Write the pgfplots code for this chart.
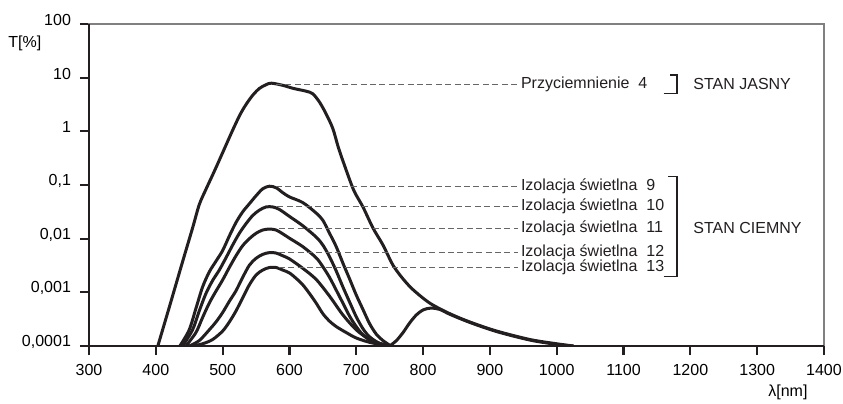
\documentclass[border=0pt]{standalone}
\usepackage{fontspec}
\setmainfont{Liberation Sans}
\usepackage{pgfplots}
\pgfplotsset{compat=1.18}

\definecolor{ink}{RGB}{35,31,32}
\definecolor{leader}{gray}{0.40}
\newcommand\fs{\fontsize{8}{9.6}\selectfont}
\tikzset{curve/.style={draw=ink, solid, line width=1.5pt, smooth, tension=0.5, mark=none}}

\begin{document}
\begin{tikzpicture}
\path[use as bounding box] (-44.5pt,-28.5pt) rectangle (377pt,173pt);
\begin{axis}[
  at={(0,0)}, anchor=south west,
  scale only axis, width=367.5pt, height=161pt,
  xmin=300, xmax=1400, ymin=1e-4, ymax=100, ymode=log,
  axis line style={draw=black!50, line width=0.6pt},
  xtick pos=bottom, ytick pos=left,
  tick style={draw=ink, line width=1.1pt},
  tick align=outside,
  major tick length=4.5pt,
  yminorticks=false,
  xtick={300,400,...,1400},
  ytick={1e-4,1e-3,1e-2,1e-1,1,10,100},
  yticklabels={{0,0001},{0,001},{0,01},{0,1},1,10,100},
  /pgf/number format/1000 sep={},
  /pgf/number format/assume math mode=true,
  xticklabel style={font=\fs, yshift=-1pt},
  yticklabel style={font=\fs, yshift=2pt, xshift=-1pt},
  clip=true,
]
% Przyciemnienie 4
\addplot[curve] coordinates {
  (403,1e-4) (420,5.2e-4) (440,3.7e-3) (455,0.0158) (465,0.043) (475,0.083)
  (487,0.174) (500,0.40) (515,1.05) (526,2.04) (535,3.16) (545,4.7)
  (555,6.3) (565,7.4) (573,7.9) (590,7.2) (606,6.3) (625,5.6) (635,5.0)
  (645,3.5) (655,2.1) (665,1.12) (673,0.51) (681,0.26) (696,0.081)
  (710,0.039) (725,0.0158) (740,0.0076) (755,0.0032) (770,0.00178)
  (785,0.00112) (810,6.3e-4) (840,4.0e-4) (870,2.8e-4) (910,1.9e-4)
  (960,1.32e-4) (1000,1.10e-4) (1025,1e-4)
};
% Izolacja swietlna 9
\addplot[curve] coordinates {
  (436,1e-4) (450,2.0e-4) (460,5.0e-4) (470,1.26e-3) (480,2.4e-3)
  (490,3.8e-3) (500,6.0e-3) (510,0.0112) (520,0.020) (530,0.0316)
  (540,0.0447) (550,0.063) (560,0.085) (570,0.095) (580,0.089)
  (590,0.072) (600,0.060) (620,0.047) (640,0.030) (650,0.022)
  (660,0.0126) (670,0.0071) (680,0.0035) (690,0.00178) (700,8.9e-4)
  (710,4.8e-4) (720,2.6e-4) (730,1.66e-4) (740,1.26e-4) (752,1e-4)
};
% Izolacja swietlna 10
\addplot[curve] coordinates {
  (440,1e-4) (455,2.0e-4) (465,4.5e-4) (475,9.5e-4) (485,1.66e-3)
  (495,2.6e-3) (505,4.4e-3) (515,7.6e-3) (525,0.0126) (535,0.019)
  (545,0.027) (555,0.034) (565,0.039) (575,0.039) (585,0.035)
  (600,0.026) (620,0.0174) (640,0.0107) (650,0.0076) (660,0.0046)
  (670,0.0025) (680,0.00126) (690,6.6e-4) (700,3.5e-4) (710,2.1e-4)
  (720,1.48e-4) (735,1.12e-4) (752,1e-4)
};
% Izolacja swietlna 11
\addplot[curve] coordinates {
  (445,1e-4) (460,1.78e-4) (470,3.4e-4) (480,6.3e-4) (490,1.05e-3)
  (500,1.7e-3) (510,2.9e-3) (520,4.8e-3) (530,7.4e-3) (540,0.010)
  (550,0.0126) (560,0.0145) (570,0.0151) (580,0.0145) (590,0.0123)
  (600,0.0102) (620,0.0071) (640,0.0044) (650,0.0030) (660,0.0019)
  (670,0.0011) (680,6.3e-4) (690,3.6e-4) (700,2.3e-4) (710,1.62e-4)
  (725,1.2e-4) (752,1e-4)
};
% Izolacja swietlna 12
\addplot[curve] coordinates {
  (450,1e-4) (465,1.26e-4) (480,2.0e-4) (490,2.8e-4) (500,4.2e-4)
  (510,6.8e-4) (520,1.07e-3) (530,1.9e-3) (540,3.2e-3) (550,4.3e-3)
  (560,5.1e-3) (570,5.5e-3) (580,5.4e-3) (590,4.8e-3) (600,4.2e-3)
  (620,2.8e-3) (640,1.74e-3) (660,8.5e-4) (680,3.8e-4) (700,2.0e-4)
  (720,1.32e-4) (740,1.07e-4) (752,1e-4)
};
% Izolacja swietlna 13
\addplot[curve] coordinates {
  (455,1e-4) (470,1.1e-4) (485,1.32e-4) (500,1.9e-4) (510,2.8e-4)
  (520,4.5e-4) (530,7.9e-4) (540,1.38e-3) (550,2.1e-3) (560,2.6e-3)
  (570,2.9e-3) (580,2.9e-3) (590,2.6e-3) (600,2.3e-3) (610,1.82e-3)
  (620,1.38e-3) (630,9.5e-4) (640,6.3e-4) (650,4.0e-4) (660,2.9e-4)
  (670,2.3e-4) (685,1.78e-4) (700,1.41e-4) (720,1.17e-4) (740,1.05e-4)
  (752,1e-4)
};
% near-infrared band of the dark state
\addplot[curve] coordinates {
  (750,1e-4) (760,1.26e-4) (770,1.78e-4) (780,2.7e-4) (790,3.8e-4)
  (800,4.7e-4) (812,5.1e-4) (825,4.8e-4) (840,3.9e-4) (870,2.75e-4)
  (910,1.86e-4) (960,1.29e-4) (1000,1.07e-4) (1025,1e-4)
};

% leader lines
\begin{scope}[draw=leader, line width=0.5pt, dash pattern=on 3pt off 1.7pt]
\draw (axis cs:580,7.6) -- (axis cs:942,7.6);
\draw (axis cs:580,0.095) -- (axis cs:942,0.095);
\draw (axis cs:582,0.040) -- (axis cs:942,0.040);
\draw (axis cs:584,0.0158) -- (axis cs:942,0.0158);
\draw (axis cs:584,0.0055) -- (axis cs:942,0.0055);
\draw (axis cs:584,0.0029) -- (axis cs:942,0.0029);
\end{scope}

\begin{scope}[every node/.style={font=\fs, inner sep=0pt, anchor=west, text=ink}]
\node at (axis cs:946,7.6) {Przyciemnienie\ \ 4};
\node at (axis cs:946,0.095) {Izolacja świetlna\ \ 9};
\node at (axis cs:946,0.040) {Izolacja świetlna\ \ 10};
\node at (axis cs:946,0.0158) {Izolacja świetlna\ \ 11};
\node at (axis cs:946,0.0055) {Izolacja świetlna\ \ 12};
\node at (axis cs:946,0.0029) {Izolacja świetlna\ \ 13};
\node at (axis cs:1204,7.6) {STAN JASNY};
\node at (axis cs:1204,0.0158) {STAN CIEMNY};
\end{scope}

% brackets
\draw[ink, line width=0.6pt] (axis cs:1160,5.1) -- (axis cs:1180,5.1) -- (axis cs:1180,11.2) -- (axis cs:1170,11.2);
\draw[ink, line width=0.6pt] (axis cs:1160,0.00196) -- (axis cs:1180,0.00196) -- (axis cs:1180,0.144) -- (axis cs:1167,0.144);
\end{axis}
% heavy left and bottom axis lines, with the x ticks
\draw[ink, line width=1.4pt] (0,161pt) -- (0,0) -- (367.5pt,0);
\foreach \i in {0,...,11}
  \draw[ink, line width=1.1pt] (\i*33.409pt,0) -- ++(0,-3.5pt);
\node[font=\fs, anchor=west, inner sep=0pt] at (-40.5pt,151.5pt) {T[\%]};
\node[font=\fs, anchor=west, inner sep=0pt] at (339.5pt,-23pt) {λ[nm]};
\end{tikzpicture}
\end{document}
